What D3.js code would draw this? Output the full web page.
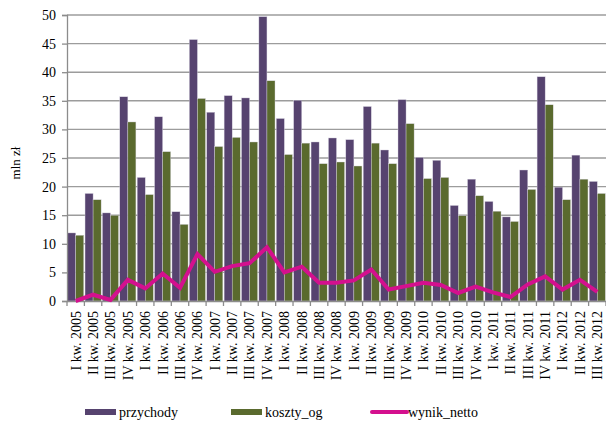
<!DOCTYPE html>
<html><head><meta charset="utf-8">
<script src="https://cdn.jsdelivr.net/npm/d3@7"></script>
<style>body{margin:0;background:#fff}svg{display:block}text{font-family:"Liberation Serif","Times New Roman",serif;fill:#000}</style>
</head><body><svg id="c" width="606" height="423"></svg>
<script>
const categories = ["I kw. 2005","II kw. 2005","III kw. 2005","IV kw. 2005","I kw. 2006","II kw. 2006","III kw. 2006","IV kw. 2006","I kw. 2007","II kw. 2007","III kw. 2007","IV kw. 2007","I kw. 2008","II kw. 2008","III kw. 2008","IV kw. 2008","I kw. 2009","II kw. 2009","III kw. 2009","IV kw. 2009","I kw. 2010","II kw. 2010","III kw. 2010","IV kw. 2010","I kw. 2011","II kw. 2011","III kw. 2011","IV kw. 2011","I kw. 2012","II kw. 2012","III kw. 2012"];
const przychody = [11.9,18.8,15.4,35.7,21.6,32.2,15.6,45.7,33.0,35.9,35.5,49.7,31.9,35.1,27.8,28.5,28.2,34.0,26.4,35.2,25.1,24.6,16.7,21.3,17.4,14.7,22.9,39.2,19.9,25.5,20.9];
const koszty_og = [11.5,17.7,15.0,31.3,18.6,26.1,13.4,35.4,27.0,28.6,27.8,38.5,25.6,27.6,24.0,24.3,23.6,27.6,24.0,31.0,21.4,21.6,14.9,18.4,15.7,13.9,19.5,34.3,17.7,21.3,18.8];
const wynik_netto = [0.0,1.1,0.2,3.7,2.2,4.8,2.3,8.2,5.1,6.1,6.6,9.4,5.0,6.0,3.2,3.2,3.6,5.5,2.0,2.6,3.2,2.8,1.4,2.5,1.5,0.7,2.9,4.3,2.0,3.7,1.6];
const yTicks = [0,5,10,15,20,25,30,35,40,45,50];
const seriesNames = ["przychody","koszty_og","wynik_netto"];
const colors = {przychody:"#56436f", koszty_og:"#5a6a2e", wynik_netto:"#d4108e"};
const FONT = "'Liberation Serif', 'Times New Roman', serif";

const svg = d3.select("#c");
const L = 67, R = 606, T = 15, B = 301;
const x = d3.scaleBand().domain(categories).range([L, R]).paddingInner(0).paddingOuter(0);
const x1 = d3.scaleBand().domain(["przychody","koszty_og"]).range([0, x.bandwidth()]).paddingInner(0).paddingOuter(0.08);
const y = d3.scaleLinear().domain([0, 50]).range([B, T]);

// gridlines
svg.append("g").selectAll("line").data(yTicks.filter(d => d > 0)).join("line")
  .attr("x1", L).attr("x2", R).attr("y1", d => y(d)).attr("y2", d => y(d))
  .attr("stroke", "#9c9c9c").attr("stroke-width", 1.4);

// bars
const groups = svg.append("g").selectAll("g").data(categories).join("g")
  .attr("transform", d => `translate(${x(d)},0)`);
groups.selectAll("rect").data((d, i) => [
  {k: "przychody", v: przychody[i]},
  {k: "koszty_og", v: koszty_og[i]}
]).join("rect")
  .attr("x", d => x1(d.k)).attr("width", x1.bandwidth())
  .attr("y", d => y(d.v)).attr("height", d => y(0) - y(d.v))
  .attr("fill", d => colors[d.k]).attr("stroke", "#d8d4e0").attr("stroke-width", 0.4);

// y axis
const yAxis = svg.append("g").attr("transform", `translate(${L},0)`)
  .call(d3.axisLeft(y).tickValues(yTicks).tickSize(5).tickPadding(6).tickFormat(d3.format("d")));
yAxis.select(".domain").attr("stroke", "#8c8c8c").attr("stroke-width", 1.3);
yAxis.selectAll(".tick line").attr("stroke", "#8c8c8c").attr("stroke-width", 1.3);
yAxis.selectAll("text").attr("font-size", 14).attr("font-family", FONT).attr("fill", "#000");

// x axis
const xAxis = svg.append("g").attr("transform", `translate(0,${y(0)})`)
  .call(d3.axisBottom(x).tickSize(0).tickPadding(0));
xAxis.select(".domain").attr("stroke", "#8c8c8c").attr("stroke-width", 1.3);
xAxis.selectAll(".tick text")
  .attr("font-size", 14).attr("font-family", FONT).attr("fill", "#000")
  .attr("text-anchor", "end").attr("dy", "0.35em")
  .attr("transform", "translate(0,10) rotate(-90)").attr("x", 0).attr("y", 0);
// tick marks at category boundaries
xAxis.append("g").selectAll("line").data(d3.range(categories.length + 1)).join("line")
  .attr("x1", i => L + i * x.step()).attr("x2", i => L + i * x.step())
  .attr("y1", 0).attr("y2", 5).attr("stroke", "#8c8c8c").attr("stroke-width", 1.3);

// line
const line = d3.line().x((d, i) => x(categories[i]) + x.bandwidth() / 2).y(d => y(d));
svg.append("path").datum(wynik_netto).attr("d", line)
  .attr("fill", "none").attr("stroke", colors.wynik_netto).attr("stroke-width", 4).attr("stroke-linejoin", "miter");

// y label
svg.append("text").attr("transform", "translate(20,163) rotate(-90)")
  .attr("text-anchor", "middle").attr("font-size", 13).attr("font-family", FONT).text("mln zł");

// legend
const lg = svg.append("g");
const lItems = [
  {k: "przychody", x: 85}, {k: "koszty_og", x: 231}, {k: "wynik_netto", x: 372}
];
lItems.forEach(it => {
  if (it.k === "wynik_netto") {
    lg.append("line").attr("x1", it.x).attr("x2", it.x + 35).attr("y1", 412).attr("y2", 412)
      .attr("stroke", colors[it.k]).attr("stroke-width", 4).attr("stroke-linecap", "round");
    lg.append("text").attr("x", it.x + 36).attr("y", 417).attr("font-size", 14).attr("font-family", FONT).text(it.k);
  } else {
    lg.append("rect").attr("x", it.x).attr("y", 409).attr("width", 31).attr("height", 6).attr("fill", colors[it.k]);
    lg.append("text").attr("x", it.x + 34).attr("y", 417).attr("font-size", 14).attr("font-family", FONT).text(it.k);
  }
});
</script></body></html>
